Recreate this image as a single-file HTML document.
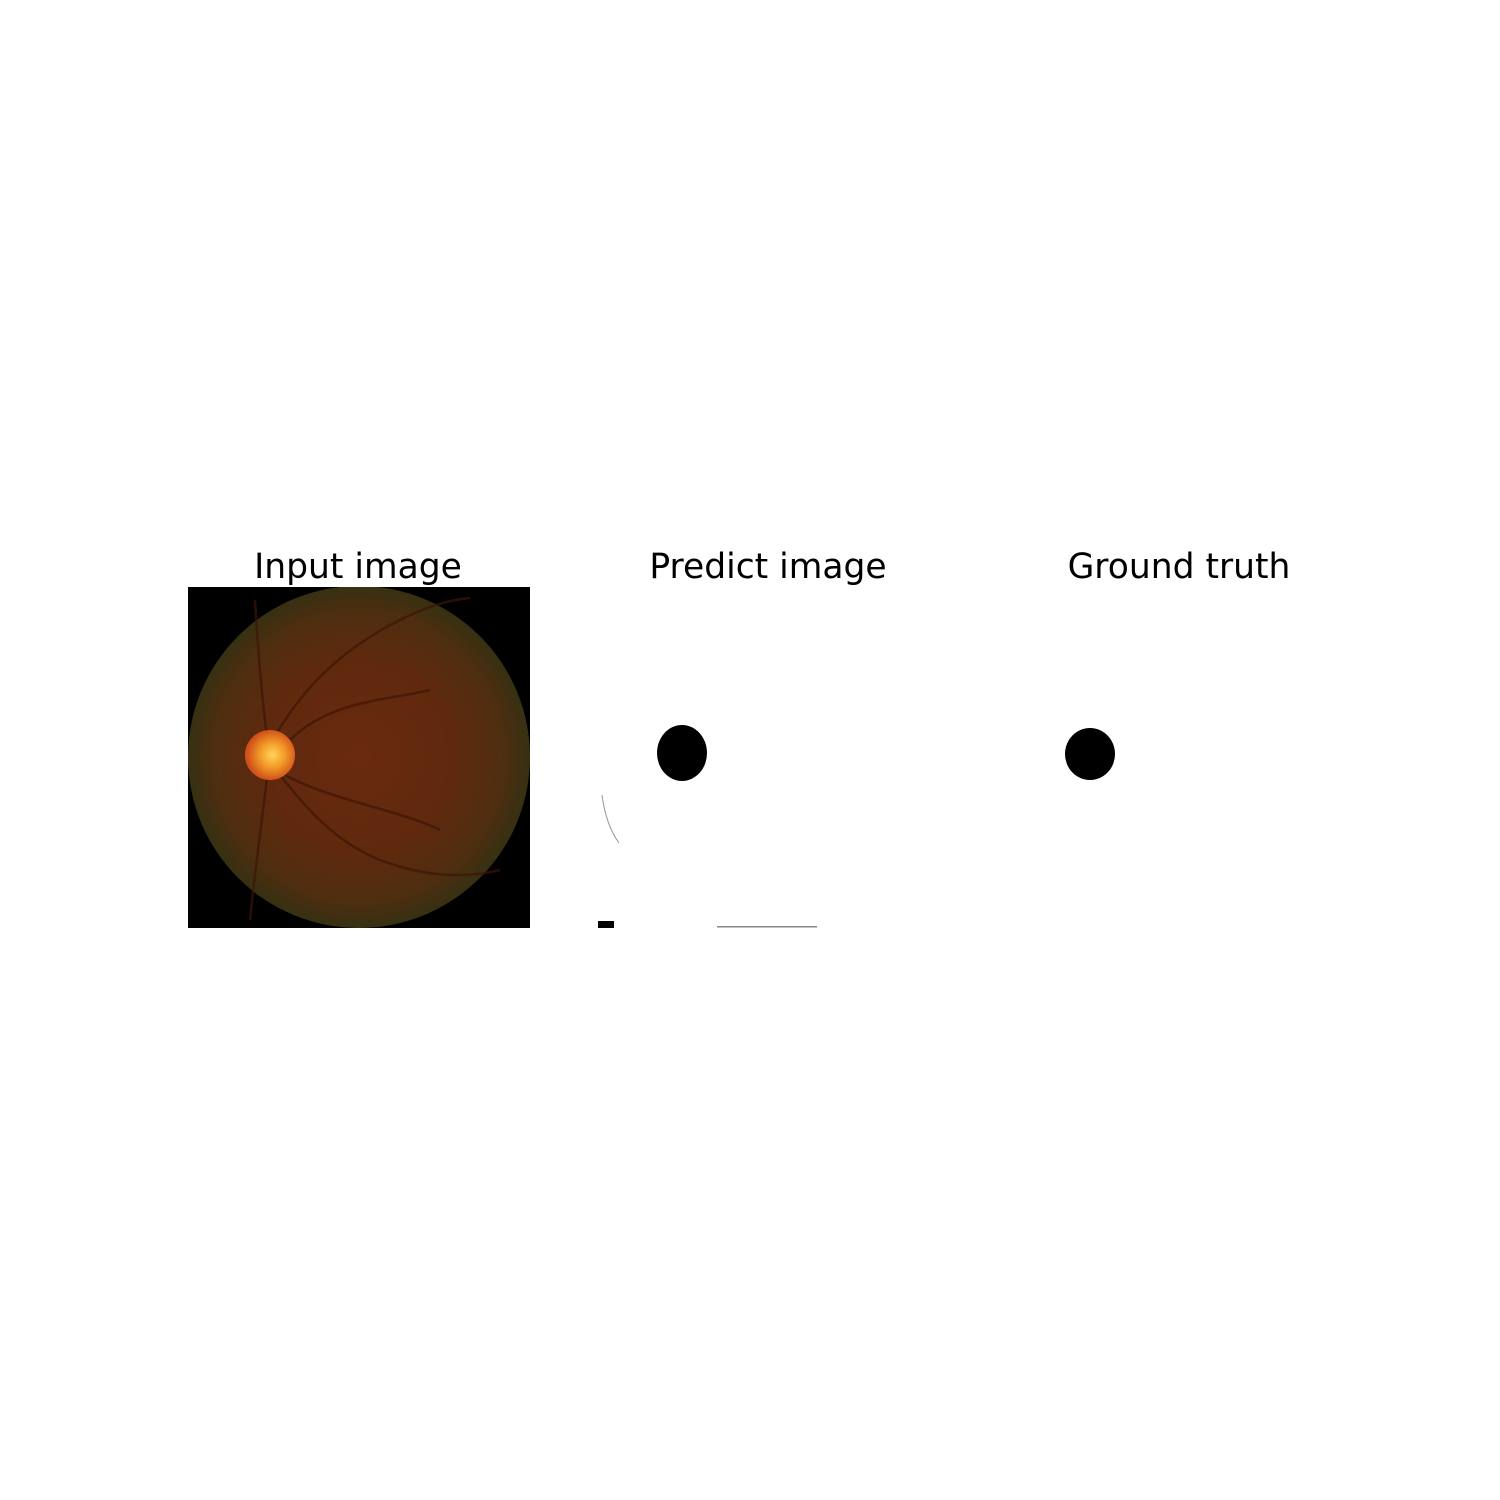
<!DOCTYPE html>
<html><head><meta charset="utf-8"><style>
html,body{margin:0;padding:0;background:#fff;}
svg{display:block;}
text{font-family:"DejaVu Sans","Liberation Sans",sans-serif;font-size:34.5px;fill:#000;}
</style></head><body>
<svg width="1500" height="1500" viewBox="0 0 1500 1500">
<defs>
<radialGradient id="fund" cx="0.5" cy="0.5" r="0.5">
<stop offset="0" stop-color="#6a2a0f"/>
<stop offset="0.55" stop-color="#60290e"/>
<stop offset="0.85" stop-color="#4e2e10"/>
<stop offset="1" stop-color="#363012"/>
</radialGradient>
<radialGradient id="disc" cx="0.55" cy="0.5" r="0.5">
<stop offset="0" stop-color="#ffd45a"/>
<stop offset="0.5" stop-color="#f39a28"/>
<stop offset="1" stop-color="#d0521a"/>
</radialGradient>
<clipPath id="sq"><rect x="188" y="587" width="342" height="341"/></clipPath>
</defs>
<g><text x="358" y="578" text-anchor="middle">Input image</text></g>
<g><text x="768" y="578" text-anchor="middle">Predict image</text></g>
<g><text x="1179" y="578" text-anchor="middle">Ground truth</text></g>

<g clip-path="url(#sq)">
<rect x="188" y="587" width="342" height="341" fill="#000"/>
<circle cx="359" cy="757" r="171" fill="url(#fund)"/>
<g fill="none" stroke="#3e1606" stroke-width="2.5" opacity="0.7">
<path d="M270 745 C300 690 340 650 400 620 C430 605 450 600 470 598"/>
<path d="M272 765 C300 800 330 840 380 860 C420 875 460 880 500 870"/>
<path d="M268 745 C262 700 258 650 255 600"/>
<path d="M268 770 C262 820 255 870 250 920"/>
<path d="M290 740 C330 700 390 700 430 690"/>
<path d="M285 775 C330 800 400 810 440 830"/>
</g>
<circle cx="270" cy="755" r="25" fill="url(#disc)"/>
</g>

<g>
<rect x="598" y="587" width="342" height="341" fill="#fff"/>
<ellipse cx="682" cy="753" rx="25" ry="28" fill="#000"/>
<rect x="598" y="921" width="16" height="7" fill="#000"/>
<rect x="717" y="926" width="100" height="1.5" fill="#888"/>
<path d="M602 795 Q606 825 619 843" stroke="#999" stroke-width="1" fill="none"/>
</g>

<g>
<ellipse cx="1090" cy="754" rx="25" ry="26" fill="#000"/>
</g>
</svg>
</body></html>
